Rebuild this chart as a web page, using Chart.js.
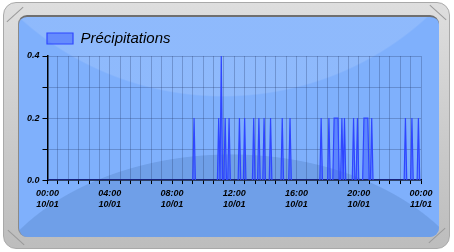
<!DOCTYPE html>
<html>
<head>
<meta charset="utf-8">
<script src="https://cdn.jsdelivr.net/npm/chart.js@4/dist/chart.umd.min.js"></script>
<style>
  html, body { margin: 0; padding: 0; background: #fff; }
  #wrap { position: relative; width: 454px; height: 252px; overflow: hidden; }
  #frame {
    position: absolute; left: 3px; top: 2px; width: 445px; height: 245px;
    border-radius: 13px; border: 1px solid #a9a9a9;
    background: linear-gradient(#dedede, #c9c9c9 60%, #bdbdbd);
  }
  #panel {
    position: absolute; left: 18px; top: 15px; width: 420px; height: 220px;
    border-radius: 9px; border-top: 2px solid #6f6f6f; border-left: 1px solid #8a8a8a;
    background:
      radial-gradient(300px 295px at 204px -215px, rgba(255,255,255,0.12) 0 99.5%, rgba(255,255,255,0) 100%),
      radial-gradient(259px 178px at 212px 315px, #6f9fe8 0 99.5%, rgba(111,159,232,0) 100%),
      #7fb0fc;
  }
  .cut { position: absolute; width: 22px; height: 1px; background: #9a9a9a; }
  canvas { position: absolute; left: 0; top: 0; }
</style>
</head>
<body>
<div id="wrap">
  <div id="frame"></div>
  <div class="cut" style="left:4px; top:14px; transform: rotate(-42deg);"></div>
  <div class="cut" style="left:426px; top:235px; transform: rotate(-42deg);"></div>
  <div class="cut" style="left:427px; top:12px; transform: rotate(42deg);"></div>
  <div class="cut" style="left:5px; top:237px; transform: rotate(42deg);"></div>
  <div id="panel"></div>
  <canvas id="precipChart" width="454" height="252"></canvas>
</div>
<script>
// Précipitations du 10/01 (pas de 5 min)
const times = [
  '00:00',
  '09:20', '09:25', '09:30',
  '10:55', '11:00', '11:05', '11:10', '11:15',
  '11:20', '11:25', '11:30',
  '11:35', '11:40', '11:45',
  '12:15', '12:20', '12:25',
  '12:35', '12:40', '12:45',
  '13:10', '13:15', '13:20',
  '13:30', '13:35', '13:40',
  '13:50', '13:55', '14:00',
  '14:15', '14:20', '14:25',
  '15:00', '15:05', '15:10',
  '15:30', '15:35', '15:40',
  '17:30', '17:35', '17:40',
  '18:00', '18:05', '18:10',
  '18:20', '18:25', '18:30', '18:35', '18:40', '18:45',
  '18:50', '18:55', '19:00', '19:05', '19:10',
  '19:35', '19:40', '19:45',
  '19:50', '19:55', '20:00',
  '20:15', '20:20', '20:25', '20:30', '20:35', '20:40',
  '20:45', '20:50', '20:55',
  '22:55', '23:00', '23:05',
  '23:20', '23:25', '23:30',
  '23:45', '23:50', '23:55',
  '24:00'
];
const precip = [
  0,
  0, 0.2, 0,
  0, 0.2, 0, 0.4, 0,
  0, 0.2, 0,
  0, 0.2, 0,
  0, 0.2, 0,
  0, 0.2, 0,
  0, 0.2, 0,
  0, 0.2, 0,
  0, 0.2, 0,
  0, 0.2, 0,
  0, 0.2, 0,
  0, 0.2, 0,
  0, 0.2, 0,
  0, 0.2, 0,
  0, 0.2, 0.2, 0.2, 0.2, 0,
  0, 0.2, 0, 0.2, 0,
  0, 0.2, 0,
  0, 0.2, 0,
  0, 0.2, 0.2, 0.2, 0.2, 0,
  0, 0.2, 0,
  0, 0.2, 0,
  0, 0.2, 0,
  0, 0.2, 0,
  0
];
const xLabels = { 0: ['00:00', '10/01'], 240: ['04:00', '10/01'], 480: ['08:00', '10/01'], 720: ['12:00', '10/01'],
                  960: ['16:00', '10/01'], 1200: ['20:00', '10/01'], 1440: ['00:00', '11/01'] };
const yLabels = [0, 0.2, 0.4];

const toMinutes = t => {
  const [h, m] = t.split(':').map(Number);
  return h * 60 + m;
};
const points = times.map((t, i) => ({ x: toMinutes(t), y: precip[i] }));

const tickFont = { family: 'Arial, "Liberation Sans"', size: 9, style: 'italic', weight: 'bold', lineHeight: 1.33 };

// décale la légende pour l'aligner sur l'axe Y
const legendShift = {
  id: 'legendShift',
  afterLayout(chart) {
    chart.legend.left += 11;
    chart.legend.right += 11;
  }
};

new Chart(document.getElementById('precipChart'), {
  type: 'line',
  data: {
    datasets: [{
      label: 'Précipitations',
      data: points,
      borderColor: '#2f46ff',
      backgroundColor: 'rgba(52, 84, 255, 0.45)',
      borderWidth: 1.2,
      fill: 'origin',
      pointRadius: 0,
      tension: 0
    }]
  },
  options: {
    responsive: false,
    animation: false,
    devicePixelRatio: 1,
    layout: { padding: { left: 24, right: 33, top: 19, bottom: 38 } },
    plugins: {
      legend: {
        align: 'start',
        labels: {
          boxWidth: 26,
          boxHeight: 11,
          padding: 12,
          color: '#000',
          font: { family: 'Arial, "Liberation Sans"', size: 15, style: 'italic' }
        }
      },
      tooltip: { enabled: false }
    },
    scales: {
      x: {
        type: 'linear',
        min: 0,
        max: 1440,
        ticks: {
          stepSize: 40,
          autoSkip: false,
          maxRotation: 0,
          padding: 3,
          color: '#000',
          font: tickFont,
          callback: v => xLabels[v] || ''
        },
        grid: { color: 'rgba(40, 60, 110, 0.3)', tickColor: '#000', tickLength: 4 },
        border: { color: '#000', width: 1.5 }
      },
      y: {
        min: 0,
        max: 0.4,
        ticks: {
          stepSize: 0.1,
          padding: 3,
          color: '#000',
          font: tickFont,
          callback: v => {
            const r = Math.round(v * 10) / 10;
            return yLabels.includes(r) ? r.toFixed(1) : '';
          }
        },
        grid: { color: 'rgba(40, 60, 110, 0.3)', tickColor: '#000', tickLength: 5 },
        border: { color: '#000', width: 1.5 }
      }
    }
  },
  plugins: [legendShift]
});
</script>
</body>
</html>
